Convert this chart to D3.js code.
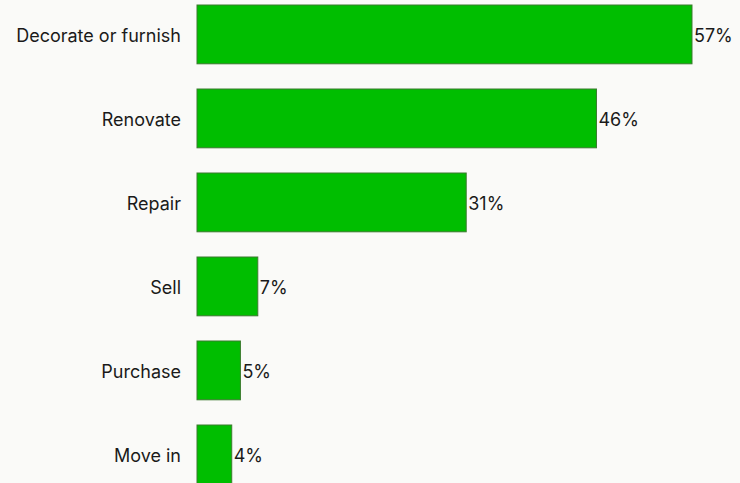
<!DOCTYPE html>
<html>
<head>
<meta charset="utf-8">
<script src="https://cdn.jsdelivr.net/npm/d3@7"></script>
<style>
  html, body { margin: 0; padding: 0; background: #fafaf8; }
  svg { display: block; }
  text { font-family: Inter, "Noto Sans", sans-serif; fill: #1a1a1a; }
</style>
</head>
<body>
<svg id="chart" width="740" height="483"></svg>
<script>
// Share of respondents by planned home activity
const categories = ["Decorate or furnish", "Renovate", "Repair", "Sell", "Purchase", "Move in"];
const values = [57, 46, 31, 7, 5, 4];

const svg = d3.select("#chart");

const x = d3.scaleLinear().domain([0, 100]).range([197, 197 + 868.4]);
const y = d3.scaleBand()
  .domain(categories)
  .range([-7.6, 496.4])
  .paddingInner(0.3)
  .paddingOuter(0.15);

const rows = svg.append("g")
  .selectAll("g")
  .data(categories.map((c, i) => ({ cat: c, val: values[i] })))
  .join("g");

rows.append("rect")
  .attr("x", x(0))
  .attr("y", d => y(d.cat))
  .attr("width", d => x(d.val) - x(0))
  .attr("height", y.bandwidth())
  .attr("fill", "#00be00")
  .attr("stroke", "#3b7a2e")
  .attr("stroke-width", 1);

rows.append("text")
  .attr("x", x(0) - 16)
  .attr("y", d => y(d.cat) + y.bandwidth() / 2 + 1)
  .attr("dy", "0.35em")
  .attr("text-anchor", "end")
  .attr("font-size", 18)
  .text(d => d.cat);

rows.append("text")
  .attr("x", d => x(d.val) + 2)
  .attr("y", d => y(d.cat) + y.bandwidth() / 2 + 1)
  .attr("dy", "0.35em")
  .attr("text-anchor", "start")
  .attr("font-size", 18)
  .text(d => d.val + "%");
</script>
</body>
</html>
